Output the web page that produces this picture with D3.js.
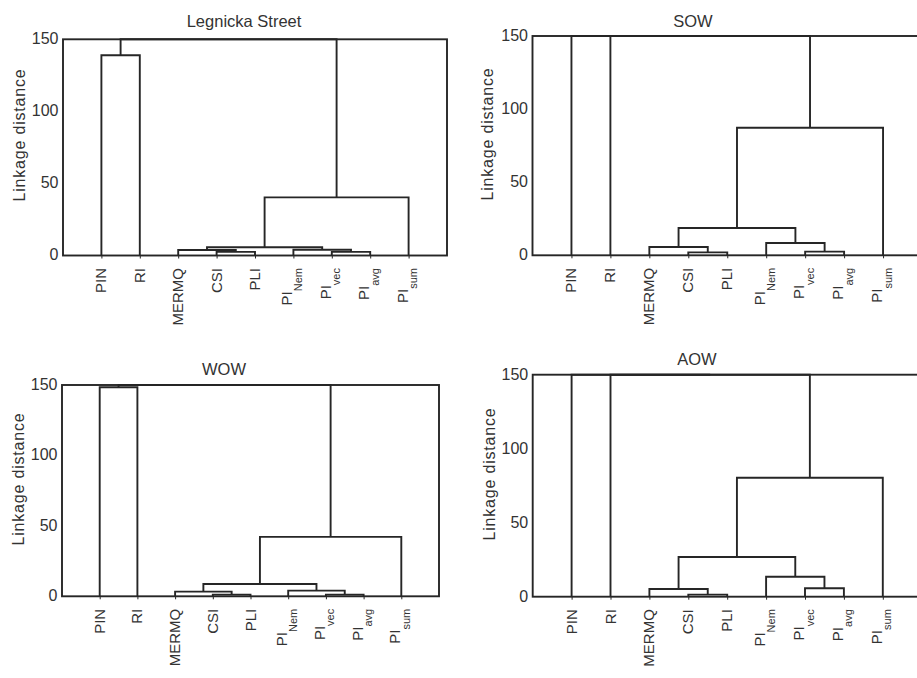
<!DOCTYPE html>
<html>
<head>
<meta charset="utf-8">
<script src="https://cdn.jsdelivr.net/npm/d3@7"></script>
<style>
  body { margin: 0; background: #fff; }
  svg { display: block; font-family: Arial, "Liberation Sans", sans-serif; }
</style>
</head>
<body>
<div id="chart"></div>
<script>
// Tree diagrams of the pollution indices, one per sampling series
const leafNames = ['PIN', 'RI', 'MERMQ', 'CSI', 'PLI', 'PI', 'PI', 'PI', 'PI'];
const leafSubs = ['', '', '', '', '', 'Nem', 'vec', 'avg', 'sum'];
const yTicks = [0, 50, 100, 150];
const yMax = 150;

// merges: [child A, child B, linkage distance]
// ids 0-8 are the leaves above, 9+ the clusters in order of creation
// null = joined above the top of the axis (150)
const mergesLegnicka = [
  [3, 4, 2.5], [2, 9, 3.8], [6, 7, 2.5], [5, 11, 4.0],
  [10, 12, 5.7], [13, 8, 40.3], [0, 1, 138.9], [15, 14, null]
];
const mergesSOW = [
  [3, 4, 2.0], [2, 9, 5.7], [6, 7, 2.5], [5, 11, 8.4],
  [10, 12, 18.7], [13, 8, 87.2], [1, 14, null], [0, 15, null]
];
const mergesWOW = [
  [3, 4, 1.2], [2, 9, 3.3], [6, 7, 1.2], [5, 11, 4.0],
  [10, 12, 8.7], [13, 8, 42.2], [0, 1, 148.4], [15, 14, null]
];
const mergesAOW = [
  [3, 4, 1.4], [2, 9, 5.2], [6, 7, 5.7], [5, 11, 13.5],
  [10, 12, 26.8], [13, 8, 80.4], [1, 14, null], [0, 15, null]
];

// frame of each plot area + title / axis-label placement (pixels)
const panels = [
  {title: 'Legnicka Street', merges: mergesLegnicka, left: 63, right: 447, top: 39.3, bottom: 255.5,
   titleX: 244, titleY: 27, labX: 19, labY: 135},
  {title: 'SOW', merges: mergesSOW, left: 532.5, right: 922, top: 36, bottom: 255.3,
   titleX: 693, titleY: 26.5, labX: 487, labY: 134},
  {title: 'WOW', merges: mergesWOW, left: 62, right: 439, top: 385, bottom: 596.3,
   titleX: 224, titleY: 375, labX: 18.5, labY: 479},
  {title: 'AOW', merges: mergesAOW, left: 532.7, right: 921.7, top: 374.7, bottom: 596.7,
   titleX: 697, titleY: 365, labX: 489, labY: 474}
];

const ink = '#262626';
const textColor = '#333';

const svg = d3.select('#chart')
  .append('svg')
  .attr('width', 917)
  .attr('height', 678);

panels.forEach(p => {
  const g = svg.append('g');

  const x = d3.scaleLinear()
    .domain([0, leafNames.length + 1])
    .range([p.left, p.right]);
  const y = d3.scaleLinear()
    .domain([0, yMax])
    .range([p.bottom, p.top]);

  // Title
  g.append('text')
    .attr('x', p.titleX)
    .attr('y', p.titleY)
    .attr('text-anchor', 'middle')
    .attr('font-size', '16.5px')
    .attr('fill', textColor)
    .text(p.title);

  // Y axis label
  g.append('text')
    .attr('transform', `translate(${p.labX},${p.labY}) rotate(-90)`)
    .attr('dy', '0.35em')
    .attr('text-anchor', 'middle')
    .attr('font-size', '16px')
    .attr('letter-spacing', '0.8px')
    .attr('fill', textColor)
    .text('Linkage distance');

  // Y tick labels
  const yAxis = g.append('g')
    .attr('transform', `translate(${p.left},0)`)
    .call(d3.axisLeft(y).tickValues(yTicks).tickSize(0).tickPadding(4.5));
  yAxis.select('.domain').remove();
  yAxis.selectAll('text')
    .attr('font-size', '16px')
    .attr('font-family', 'Arial, "Liberation Sans", sans-serif')
    .attr('fill', textColor)
    .attr('dy', '0.28em');

  // small ticks under each leaf
  const xAxis = g.append('g')
    .attr('transform', `translate(0,${p.bottom})`)
    .call(d3.axisBottom(x).tickValues(d3.range(1, leafNames.length + 1)).tickSize(3).tickFormat(''));
  xAxis.select('.domain').remove();
  xAxis.selectAll('line').attr('stroke', ink).attr('stroke-width', 1);

  // Dendrogram links
  const nodes = leafNames.map((d, i) => ({x: x(i + 1), h: 0}));
  p.merges.forEach(m => {
    const a = nodes[m[0]];
    const b = nodes[m[1]];
    const h = m[2] == null ? yMax : m[2];
    g.append('path')
      .attr('d', `M${a.x},${y(a.h)}V${y(h)}H${b.x}V${y(b.h)}`)
      .attr('fill', 'none')
      .attr('stroke', ink)
      .attr('stroke-width', 1.9);
    nodes.push({x: (a.x + b.x) / 2, h});
  });

  // Plot frame
  g.append('rect')
    .attr('x', p.left)
    .attr('y', p.top)
    .attr('width', p.right - p.left)
    .attr('height', p.bottom - p.top)
    .attr('fill', 'none')
    .attr('stroke', ink)
    .attr('stroke-width', 1.9);

  // Leaf labels, rotated, with subscripts
  leafNames.forEach((name, i) => {
    const sub = leafSubs[i];
    const t = g.append('text')
      .attr('transform', `translate(${x(i + 1)},${p.bottom + 12.5}) rotate(-90)`)
      .attr('y', sub ? -1 : 5)
      .attr('text-anchor', 'end')
      .attr('font-size', '15px')
      .attr('fill', textColor);
    t.append('tspan').text(name);
    if (sub) {
      t.append('tspan')
        .attr('dy', 9.5)
        .attr('font-size', '11px')
        .text(sub);
    }
  });
});
</script>
</body>
</html>
